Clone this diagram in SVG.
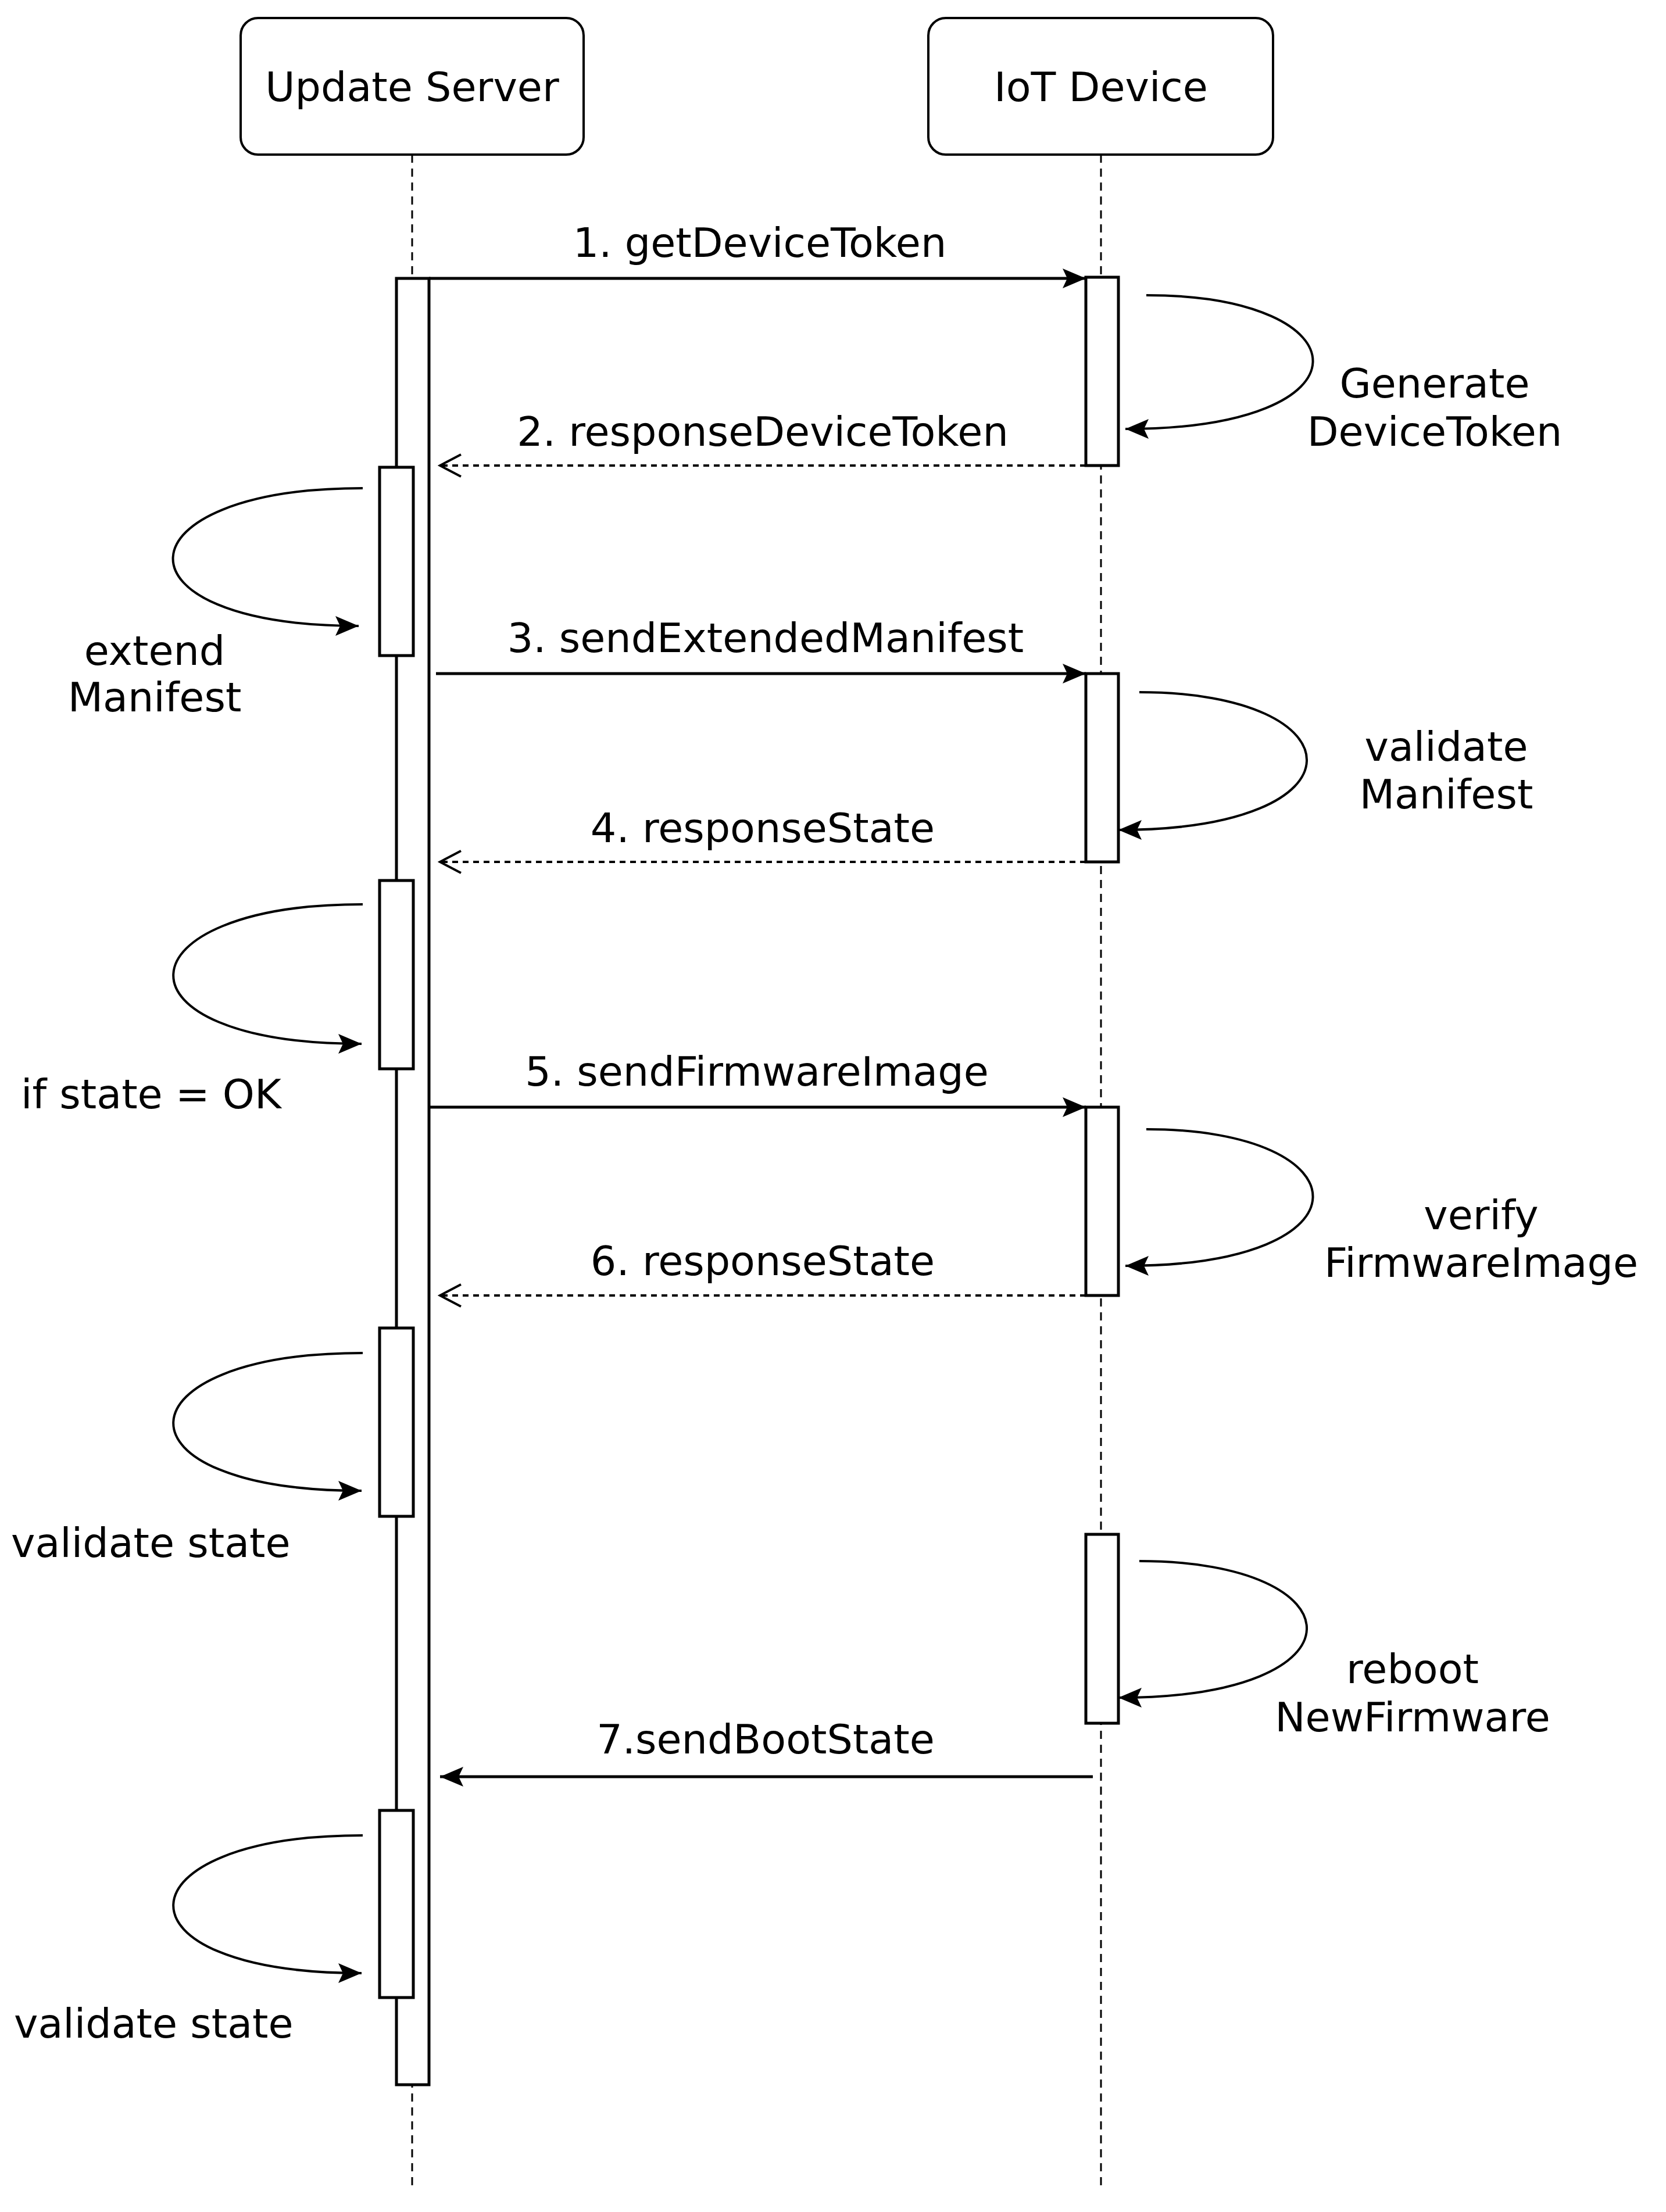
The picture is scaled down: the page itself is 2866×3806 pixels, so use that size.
<svg xmlns="http://www.w3.org/2000/svg" width="2866" height="3806" viewBox="0 0 2866 3806">
<style>
text{font-family:"DejaVu Sans",Verdana,sans-serif;font-size:70px;fill:#000}
.box{fill:#fff;stroke:#000;stroke-width:4}
.life{stroke:#000;stroke-width:3;stroke-dasharray:14 10;fill:none}
.act{fill:#fff;stroke:#000;stroke-width:5}
.msg{stroke:#000;stroke-width:5;fill:none}
.ret{stroke:#000;stroke-width:4;fill:none;stroke-dasharray:10 8}
.loop{stroke:#000;stroke-width:4;fill:none}
</style>
<defs>
<marker id="fa" markerUnits="userSpaceOnUse" markerWidth="50" markerHeight="50" refX="44" refY="25" orient="auto"><path d="M4 8 L44 25 L4 42 L12 25 Z" fill="#000"/></marker>
<marker id="oa" markerUnits="userSpaceOnUse" markerWidth="50" markerHeight="50" refX="40" refY="25" orient="auto"><path d="M4 6 L40 25 L4 44" fill="none" stroke="#000" stroke-width="4"/></marker>
</defs>
<rect width="2866" height="3806" fill="#fff"/>
<g id="server">
<line class="life" x1="709" y1="266" x2="709" y2="3770"/>
<rect class="box" x="414" y="31" width="590" height="235" rx="30"/>
<text x="709" y="174" text-anchor="middle">Update Server</text>
<rect class="act" x="682" y="479" width="56" height="3108"/>
<rect class="act" x="653" y="804" width="58" height="324"/>
<rect class="act" x="653" y="1515" width="58" height="324"/>
<rect class="act" x="653" y="2285" width="58" height="324"/>
<rect class="act" x="653" y="3115" width="58" height="322"/>
</g>
<g id="device">
<line class="life" x1="1894" y1="266" x2="1894" y2="3770"/>
<rect class="box" x="1597" y="31" width="593" height="235" rx="30"/>
<text x="1894" y="174" text-anchor="middle">IoT Device</text>
<rect class="act" x="1868" y="477" width="56" height="324"/>
<rect class="act" x="1868" y="1159" width="56" height="324"/>
<rect class="act" x="1868" y="1905" width="56" height="324"/>
<rect class="act" x="1868" y="2640" width="56" height="325"/>
</g>
<g id="connectors">
<line class="msg" x1="738" y1="479" x2="1868" y2="479" marker-end="url(#fa)"/>
<text x="1307" y="442" text-anchor="middle">1. getDeviceToken</text>
<line class="ret" x1="1868" y1="801" x2="757" y2="801" marker-end="url(#oa)"/>
<text x="1312" y="767" text-anchor="middle">2. responseDeviceToken</text>
<line class="msg" x1="750" y1="1159" x2="1868" y2="1159" marker-end="url(#fa)"/>
<text x="1317" y="1122" text-anchor="middle">3. sendExtendedManifest</text>
<line class="ret" x1="1868" y1="1483" x2="757" y2="1483" marker-end="url(#oa)"/>
<text x="1312" y="1449" text-anchor="middle">4. responseState</text>
<line class="msg" x1="738" y1="1905" x2="1868" y2="1905" marker-end="url(#fa)"/>
<text x="1302" y="1868" text-anchor="middle">5. sendFirmwareImage</text>
<line class="ret" x1="1868" y1="2229" x2="757" y2="2229" marker-end="url(#oa)"/>
<text x="1312" y="2194" text-anchor="middle">6. responseState</text>
<line class="msg" x1="1880" y1="3057" x2="757" y2="3057" marker-end="url(#fa)"/>
<text x="1317" y="3017" text-anchor="middle">7.sendBootState</text>

<path class="loop" d="M1972 508 C2350 508 2370 738 1936 738" marker-end="url(#fa)"/>
<text x="2468" y="684" text-anchor="middle">Generate</text>
<text x="2468" y="767" text-anchor="middle">DeviceToken</text>
<path class="loop" d="M1960 1191 C2340 1191 2360 1428 1924 1428" marker-end="url(#fa)"/>
<text x="2488" y="1309" text-anchor="middle">validate</text>
<text x="2488" y="1391" text-anchor="middle">Manifest</text>
<path class="loop" d="M1972 1943 C2350 1943 2370 2178 1936 2178" marker-end="url(#fa)"/>
<text x="2548" y="2115" text-anchor="middle">verify</text>
<text x="2548" y="2197" text-anchor="middle">FirmwareImage</text>
<path class="loop" d="M1960 2686 C2340 2686 2360 2921 1924 2921" marker-end="url(#fa)"/>
<text x="2430" y="2896" text-anchor="middle">reboot</text>
<text x="2430" y="2979" text-anchor="middle">NewFirmware</text>

<path class="loop" d="M624 840 C200 840 180 1077 617 1077" marker-end="url(#fa)"/>
<text x="266" y="1144" text-anchor="middle">extend</text>
<text x="266" y="1224" text-anchor="middle">Manifest</text>
<path class="loop" d="M624 1556 C200 1556 180 1796 622 1796" marker-end="url(#fa)"/>
<text x="36" y="1907">if state = OK</text>
<path class="loop" d="M624 2328 C200 2328 180 2565 622 2565" marker-end="url(#fa)"/>
<text x="19" y="2679">validate state</text>
<path class="loop" d="M624 3158 C200 3158 180 3395 622 3395" marker-end="url(#fa)"/>
<text x="24" y="3506">validate state</text>
</g>
</svg>
